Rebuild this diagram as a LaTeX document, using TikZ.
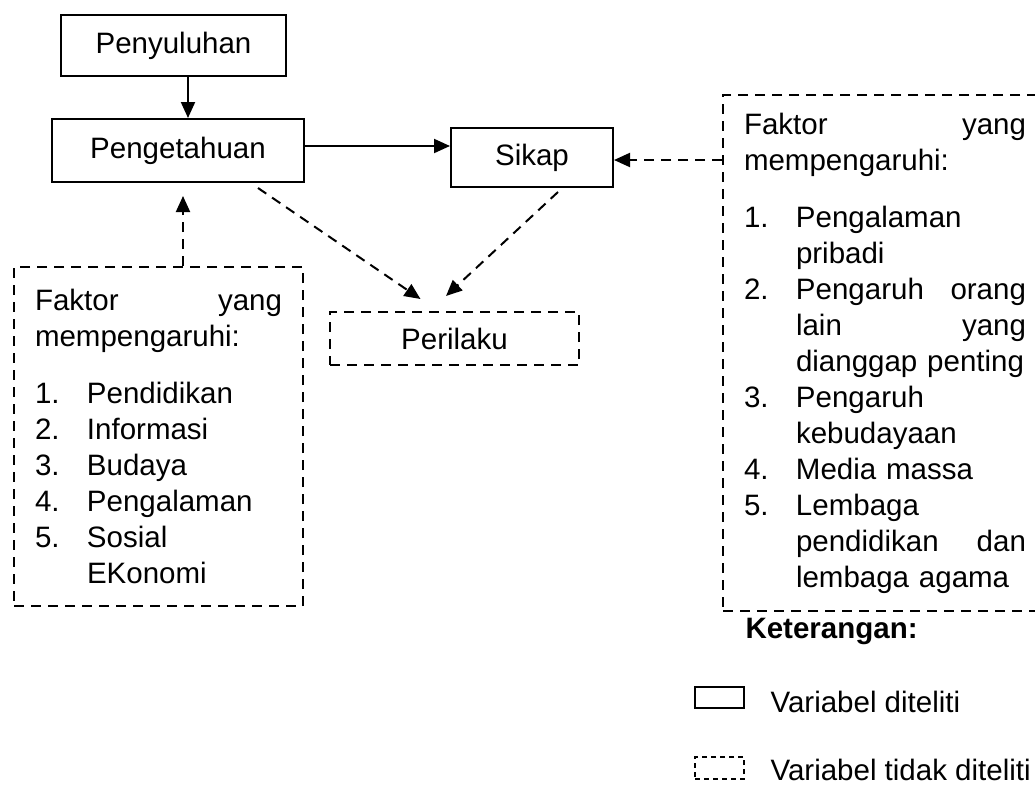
\documentclass[tikz,border=0pt]{standalone}
\usepackage{fontspec}
\setmainfont{Liberation Sans}
\usetikzlibrary{arrows.meta}

\newcommand{\faknum}[1]{\makebox[52pt][l]{#1}}
\newcommand{\fakind}{\hspace*{52pt}}

\begin{document}
\begin{tikzpicture}[x=1pt,y=-1pt,
    every node/.style={font=\fontsize{29.5pt}{36pt}\selectfont},
    varbox/.style={draw,line width=2pt,inner sep=0pt},
    dashbox/.style={draw,line width=2pt,dash pattern=on 10pt off 7pt,inner sep=0pt},
    faktorbox/.style={dashbox,anchor=north west,align=left,inner xsep=21pt},
    arr/.style={line width=2pt,-{Triangle[length=16pt,width=14pt]}},
    darr/.style={arr,dash pattern=on 10pt off 7pt}]
    \useasboundingbox (0,0) rectangle (1035,785);
    % variabel diteliti
    \node[varbox,minimum width=225pt,minimum height=61pt] (penyuluhan) at (173.5,45.5) {Penyuluhan};
    \node[varbox,minimum width=252pt,minimum height=63pt] (pengetahuan) at (178,150.5) {Pengetahuan};
    \node[varbox,minimum width=162pt,minimum height=59pt] (sikap) at (532,157.5) {Sikap};
    % variabel tidak diteliti
    \node[dashbox,minimum width=249pt,minimum height=53pt] (perilaku) at (454.5,338.5) {Perilaku};
    \node[faktorbox,text width=247pt,minimum height=339pt] (faktorP) at (13,266) {%
        Faktor\hfill yang\\
        mempengaruhi:\\[21pt]
        \faknum{1.}Pendidikan\\
        \faknum{2.}Informasi\\
        \faknum{3.}Budaya\\
        \faknum{4.}Pengalaman\\
        \faknum{5.}Sosial\\
        \fakind EKonomi};
    \node[faktorbox,text width=282pt,minimum height=516pt] (faktorS) at (722,94) {%
        Faktor\hfill yang\\
        mempengaruhi:\\[21pt]
        \faknum{1.}Pengalaman\\
        \fakind pribadi\\
        \faknum{2.}Pengaruh\hfill orang\\
        \fakind lain\hfill yang\\
        \fakind\mbox{dianggap penting}\\
        \faknum{3.}Pengaruh\\
        \fakind kebudayaan\\
        \faknum{4.}Media massa\\
        \faknum{5.}Lembaga\\
        \fakind pendidikan\hfill dan\\
        \fakind lembaga agama};
    % panah
    \coordinate (pengN) at ([xshift=14.5pt]penyuluhan.south);
    \draw[arr] (pengN) -- (pengN |- pengetahuan.north);
    \coordinate (pengE) at ([yshift=4.5pt]pengetahuan.east);
    \draw[arr] (pengE) -- (pengE -| sikap.west);
    \coordinate (sikapE) at ([yshift=-2.5pt]sikap.east);
    \draw[darr] (sikapE -| faktorS.west) -- (sikapE);
    \coordinate (pengS) at ([xshift=5pt,yshift=-13pt]pengetahuan.south);
    \draw[darr] (pengS |- faktorP.north) -- (pengS);
    \draw[darr] ([xshift=-47pt,yshift=-5pt]pengetahuan.south east) -- ([xshift=-34pt,yshift=12pt]perilaku.north);
    \draw[darr] ([xshift=26pt,yshift=-4pt]sikap.south) -- ([xshift=-8.5pt,yshift=15pt]perilaku.north);
    % keterangan
    \node[font={\fontsize{29.5pt}{36pt}\selectfont\bfseries},anchor=base west] (keterangan) at (742,638) {Keterangan:};
    \node[varbox,minimum width=49pt,minimum height=21pt] (legvar) at (719.5,697.5) {};
    \node[anchor=base west] (legvartext) at (767,712) {Variabel diteliti};
    \node[varbox,dash pattern=on 5pt off 4pt,minimum width=49pt,minimum height=22pt] (legdash) at (719.5,768) {};
    \node[anchor=base west] (legdashtext) at (767,780) {Variabel tidak diteliti};
\end{tikzpicture}
\end{document}
